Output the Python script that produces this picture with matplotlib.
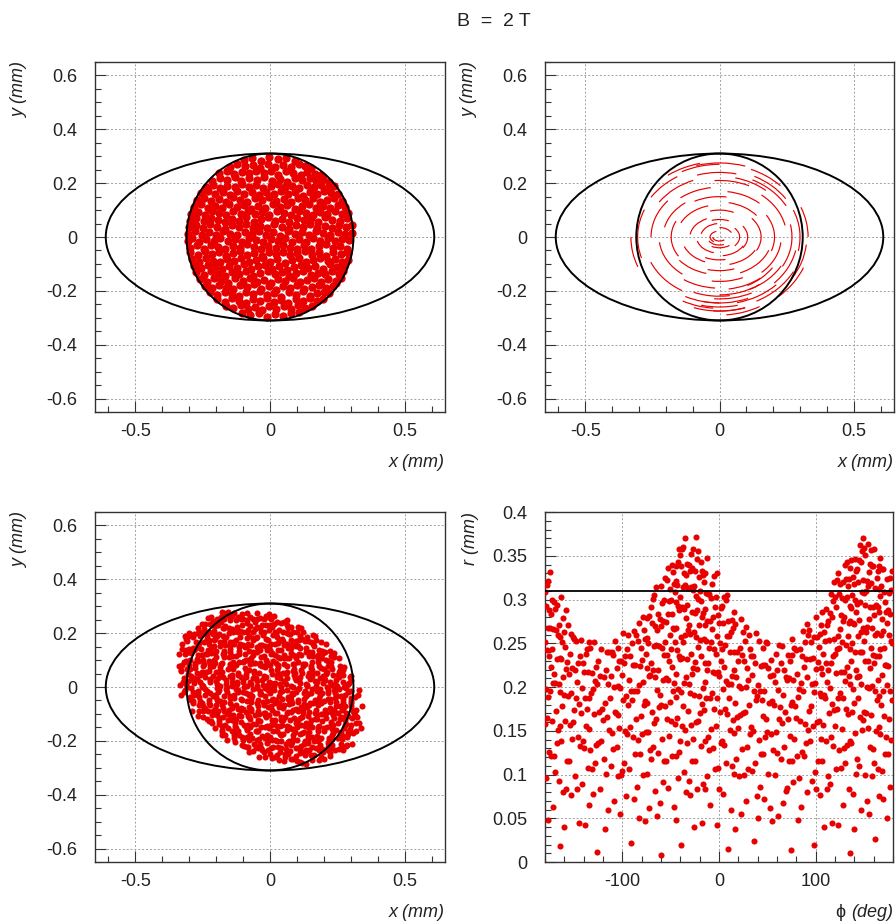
import numpy as np
import matplotlib
matplotlib.use("Agg")
import matplotlib.pyplot as plt
from matplotlib.patches import Ellipse, Circle, Arc
from matplotlib.ticker import MultipleLocator, FuncFormatter

plt.rcParams["font.family"] = ["Liberation Sans", "DejaVu Sans"]

FIELD_LABEL = "B  =  2 T"
APERTURE_A = 0.61   # ellipse half width (mm)
APERTURE_B = 0.31   # ellipse half height (mm)
BEAM_R = 0.31       # beam radius (mm)

# beam spot at entry, (x, y) in mm
entry_xy = [
    (-0.098, 0.286), (-0.066, 0.293), (-0.034, 0.283), (-0.004, 0.297), (0.028, 0.289), (0.061, 0.294), (0.092, 0.282),
    (-0.149, 0.259), (-0.121, 0.270), (-0.094, 0.262), (-0.062, 0.268), (-0.037, 0.257), (-0.008, 0.272), (0.019, 0.261),
    (0.047, 0.268), (0.079, 0.259), (0.106, 0.271), (0.131, 0.263), (0.153, 0.256),
    (-0.188, 0.236), (-0.161, 0.245), (-0.133, 0.233), (-0.104, 0.242), (-0.079, 0.236), (-0.051, 0.247), (-0.022, 0.238),
    (0.004, 0.244), (0.031, 0.232), (0.058, 0.246), (0.087, 0.239), (0.114, 0.231), (0.139, 0.243), (0.166, 0.235), (0.189, 0.229),
    (-0.214, 0.209), (-0.187, 0.218), (-0.159, 0.211), (-0.131, 0.222), (-0.106, 0.208), (-0.077, 0.219), (-0.049, 0.213),
    (-0.021, 0.224), (0.007, 0.209), (0.036, 0.217), (0.062, 0.206), (0.091, 0.221), (0.118, 0.212), (0.147, 0.219),
    (0.172, 0.207), (0.198, 0.214), (0.219, 0.203),
    (-0.238, 0.186), (-0.212, 0.194), (-0.186, 0.183), (-0.158, 0.191), (-0.131, 0.184), (-0.104, 0.196), (-0.079, 0.187),
    (-0.052, 0.193), (-0.026, 0.181), (0.002, 0.189), (0.029, 0.197), (0.055, 0.184), (0.083, 0.191), (0.109, 0.182),
    (0.137, 0.193), (0.163, 0.186), (0.191, 0.195), (0.216, 0.183), (0.239, 0.188),
    (-0.257, 0.162), (-0.229, 0.171), (-0.203, 0.159), (-0.176, 0.168), (-0.149, 0.157), (-0.122, 0.172), (-0.097, 0.161),
    (-0.068, 0.167), (-0.041, 0.156), (-0.014, 0.169), (0.013, 0.161), (0.041, 0.172), (0.068, 0.158), (0.094, 0.166),
    (0.121, 0.154), (0.148, 0.169), (0.174, 0.159), (0.201, 0.171), (0.228, 0.162), (0.253, 0.158),
    (-0.271, 0.136), (-0.244, 0.145), (-0.218, 0.133), (-0.191, 0.142), (-0.165, 0.131), (-0.137, 0.147), (-0.111, 0.138),
    (-0.084, 0.129), (-0.057, 0.144), (-0.031, 0.136), (-0.004, 0.148), (0.024, 0.133), (0.051, 0.141), (0.077, 0.129),
    (0.104, 0.146), (0.131, 0.137), (0.158, 0.144), (0.184, 0.131), (0.211, 0.139), (0.238, 0.146), (0.266, 0.134),
    (-0.284, 0.112), (-0.258, 0.121), (-0.231, 0.108), (-0.204, 0.117), (-0.178, 0.106), (-0.151, 0.122), (-0.124, 0.111),
    (-0.098, 0.119), (-0.071, 0.104), (-0.043, 0.116), (-0.017, 0.107), (0.011, 0.121), (0.038, 0.112), (0.064, 0.118),
    (0.091, 0.105), (0.118, 0.114), (0.145, 0.123), (0.171, 0.109), (0.198, 0.117), (0.224, 0.106), (0.251, 0.119), (0.279, 0.113),
    (-0.292, 0.086), (-0.269, 0.094), (-0.243, 0.083), (-0.216, 0.097), (-0.189, 0.088), (-0.163, 0.081), (-0.136, 0.095),
    (-0.109, 0.087), (-0.083, 0.098), (-0.056, 0.084), (-0.029, 0.092), (-0.002, 0.081), (0.025, 0.096), (0.052, 0.088),
    (0.079, 0.083), (0.106, 0.097), (0.133, 0.089), (0.159, 0.082), (0.186, 0.094), (0.213, 0.087), (0.241, 0.096),
    (0.268, 0.084), (0.290, 0.091),
    (-0.297, 0.061), (-0.274, 0.069), (-0.247, 0.058), (-0.221, 0.072), (-0.194, 0.063), (-0.167, 0.056), (-0.141, 0.068),
    (-0.114, 0.061), (-0.088, 0.073), (-0.061, 0.057), (-0.034, 0.066), (-0.008, 0.074), (0.019, 0.059), (0.046, 0.067),
    (0.072, 0.055), (0.099, 0.071), (0.126, 0.062), (0.152, 0.069), (0.179, 0.057), (0.206, 0.073), (0.232, 0.064),
    (0.259, 0.058), (0.286, 0.069),
    (-0.302, 0.036), (-0.276, 0.045), (-0.249, 0.033), (-0.223, 0.047), (-0.196, 0.038), (-0.169, 0.031), (-0.143, 0.044),
    (-0.117, 0.036), (-0.091, 0.048), (-0.064, 0.032), (-0.037, 0.041), (-0.011, 0.035), (0.016, 0.047), (0.043, 0.038),
    (0.069, 0.031), (0.096, 0.045), (0.123, 0.037), (0.149, 0.049), (0.176, 0.034), (0.203, 0.042), (0.229, 0.033),
    (0.256, 0.046), (0.283, 0.038), (0.303, 0.043),
    (-0.305, 0.012), (-0.279, 0.021), (-0.252, 0.009), (-0.226, 0.018), (-0.199, 0.007), (-0.173, 0.022), (-0.147, 0.013),
    (-0.121, 0.006), (-0.094, 0.019), (-0.068, 0.011), (-0.041, 0.023), (-0.015, 0.008), (0.012, 0.017), (0.038, 0.005),
    (0.065, 0.021), (0.092, 0.012), (0.118, 0.019), (0.145, 0.008), (0.171, 0.022), (0.198, 0.014), (0.224, 0.006),
    (0.251, 0.019), (0.277, 0.011), (0.303, 0.016),
    (-0.303, -0.014), (-0.288, -0.004), (-0.262, -0.017), (-0.236, -0.006), (-0.209, -0.013), (-0.184, -0.002), (-0.157, -0.016),
    (-0.131, -0.008), (-0.105, -0.018), (-0.078, -0.004), (-0.052, -0.012), (-0.025, -0.019), (0.002, -0.006), (0.028, -0.015),
    (0.055, -0.003), (0.081, -0.017), (0.108, -0.009), (0.134, -0.019), (0.161, -0.005), (0.187, -0.013), (0.214, -0.002),
    (0.241, -0.016), (0.266, -0.007), (0.292, -0.012),
    (-0.299, -0.039), (-0.272, -0.031), (-0.246, -0.043), (-0.219, -0.028), (-0.193, -0.037), (-0.166, -0.044), (-0.139, -0.032),
    (-0.113, -0.041), (-0.086, -0.027), (-0.059, -0.038), (-0.033, -0.046), (-0.006, -0.033), (0.021, -0.042), (0.047, -0.029),
    (0.074, -0.039), (0.101, -0.045), (0.127, -0.031), (0.154, -0.043), (0.181, -0.035), (0.207, -0.027), (0.234, -0.041),
    (0.261, -0.033), (0.287, -0.044),
    (-0.296, -0.057), (-0.269, -0.066), (-0.243, -0.053), (-0.217, -0.064), (-0.191, -0.056), (-0.164, -0.069), (-0.137, -0.058),
    (-0.111, -0.052), (-0.084, -0.067), (-0.058, -0.059), (-0.031, -0.071), (-0.004, -0.054), (0.022, -0.063), (0.049, -0.056),
    (0.075, -0.068), (0.102, -0.061), (0.129, -0.052), (0.155, -0.066), (0.182, -0.057), (0.208, -0.069), (0.235, -0.055),
    (0.262, -0.064), (0.291, -0.058),
    (-0.291, -0.081), (-0.264, -0.091), (-0.238, -0.079), (-0.212, -0.088), (-0.186, -0.094), (-0.159, -0.082), (-0.132, -0.089),
    (-0.106, -0.077), (-0.079, -0.093), (-0.053, -0.084), (-0.026, -0.078), (0.001, -0.091), (0.027, -0.083), (0.054, -0.096),
    (0.081, -0.087), (0.107, -0.079), (0.134, -0.092), (0.161, -0.084), (0.187, -0.077), (0.214, -0.089), (0.241, -0.081),
    (0.268, -0.093), (0.289, -0.085),
    (-0.282, -0.107), (-0.256, -0.116), (-0.229, -0.104), (-0.203, -0.113), (-0.177, -0.119), (-0.151, -0.106), (-0.124, -0.115),
    (-0.097, -0.102), (-0.071, -0.118), (-0.044, -0.109), (-0.018, -0.103), (0.009, -0.117), (0.035, -0.108), (0.062, -0.121),
    (0.088, -0.111), (0.115, -0.104), (0.142, -0.116), (0.168, -0.107), (0.195, -0.119), (0.221, -0.102), (0.248, -0.113),
    (0.276, -0.106),
    (-0.274, -0.131), (-0.247, -0.141), (-0.221, -0.128), (-0.195, -0.138), (-0.168, -0.144), (-0.142, -0.129), (-0.115, -0.137),
    (-0.089, -0.127), (-0.062, -0.143), (-0.036, -0.133), (-0.009, -0.126), (0.017, -0.139), (0.044, -0.131), (0.071, -0.146),
    (0.097, -0.134), (0.124, -0.127), (0.151, -0.141), (0.177, -0.132), (0.204, -0.138), (0.231, -0.128), (0.257, -0.139),
    (0.272, -0.126),
    (-0.261, -0.156), (-0.234, -0.166), (-0.208, -0.153), (-0.182, -0.163), (-0.155, -0.169), (-0.129, -0.154), (-0.102, -0.162),
    (-0.076, -0.151), (-0.049, -0.167), (-0.023, -0.158), (0.004, -0.171), (0.031, -0.155), (0.057, -0.164), (0.084, -0.152),
    (0.111, -0.168), (0.137, -0.159), (0.164, -0.153), (0.191, -0.166), (0.217, -0.157), (0.244, -0.163), (0.262, -0.151),
    (-0.243, -0.181), (-0.217, -0.191), (-0.191, -0.178), (-0.164, -0.188), (-0.138, -0.194), (-0.111, -0.179), (-0.085, -0.187),
    (-0.058, -0.176), (-0.032, -0.192), (-0.005, -0.183), (0.021, -0.196), (0.048, -0.181), (0.075, -0.189), (0.101, -0.177),
    (0.128, -0.193), (0.155, -0.184), (0.181, -0.178), (0.208, -0.191), (0.234, -0.182), (0.246, -0.172),
    (-0.222, -0.206), (-0.196, -0.216), (-0.169, -0.203), (-0.143, -0.213), (-0.117, -0.219), (-0.091, -0.204), (-0.064, -0.212),
    (-0.038, -0.201), (-0.011, -0.217), (0.016, -0.208), (0.042, -0.221), (0.069, -0.206), (0.095, -0.214), (0.122, -0.202),
    (0.149, -0.218), (0.175, -0.209), (0.202, -0.203), (0.218, -0.207),
    (-0.196, -0.231), (-0.169, -0.241), (-0.143, -0.228), (-0.117, -0.238), (-0.091, -0.244), (-0.064, -0.229), (-0.038, -0.237),
    (-0.011, -0.226), (0.015, -0.242), (0.042, -0.233), (0.068, -0.246), (0.095, -0.231), (0.121, -0.239), (0.148, -0.227),
    (0.174, -0.236), (0.196, -0.229),
    (-0.162, -0.256), (-0.136, -0.265), (-0.109, -0.253), (-0.083, -0.268), (-0.056, -0.259), (-0.029, -0.271), (-0.003, -0.255),
    (0.024, -0.266), (0.051, -0.258), (0.077, -0.269), (0.104, -0.254), (0.131, -0.263), (0.157, -0.257),
    (-0.104, -0.282), (-0.073, -0.291), (-0.042, -0.284), (-0.012, -0.296), (0.019, -0.287), (0.049, -0.293), (0.079, -0.283),
    (0.106, -0.279),
]

# track segments in the field: loops about the axis, (half width, half height, theta1, theta2) in mm and deg
tracks = [
    (0.025, 0.015, 180, 330), (0.035, 0.022, 120, 220), (0.045, 0.030, 200, 300), (0.050, 0.035, 20, 90),
    (0.060, 0.040, 230, 320), (0.070, 0.050, 100, 170), (0.075, 0.050, -30, 30), (0.085, 0.060, 190, 250),
    (0.090, 0.065, 60, 115), (0.100, 0.070, 280, 340), (0.105, 0.072, -25, 25), (0.110, 0.075, 125, 175),
    (0.120, 0.085, 235, 285),
    (0.130, 0.100, 60, 110), (0.140, 0.100, 195, 240), (0.150, 0.105, 290, 340), (0.155, 0.110, -20, 30),
    (0.160, 0.120, 110, 160), (0.170, 0.125, 250, 295), (0.175, 0.130, 30, 75), (0.180, 0.135, 160, 205),
    (0.190, 0.140, 210, 250), (0.195, 0.145, 300, 345), (0.200, 0.150, 80, 125), (0.205, 0.155, -15, 25),
    (0.210, 0.160, 135, 170), (0.215, 0.165, 260, 300), (0.220, 0.170, 40, 80), (0.225, 0.175, 185, 225),
    (0.230, 0.180, 320, 355), (0.235, 0.185, 100, 135), (0.240, 0.190, 230, 265), (0.245, 0.195, 280, 315),
    (0.250, 0.200, 10, 45),
    (0.255, 0.205, 145, 180), (0.260, 0.210, 60, 95), (0.265, 0.215, 300, 335), (0.270, 0.220, -25, 10),
    (0.270, 0.220, 245, 280), (0.275, 0.225, 115, 150), (0.280, 0.230, 265, 300), (0.280, 0.230, 200, 235),
    (0.285, 0.235, 25, 60), (0.290, 0.240, 320, 350), (0.290, 0.240, 75, 110), (0.295, 0.245, 240, 270),
    (0.300, 0.250, 285, 320), (0.300, 0.250, -10, 20), (0.305, 0.255, 160, 195), (0.310, 0.260, 125, 150),
    (0.310, 0.260, 255, 285), (0.315, 0.265, 300, 335), (0.320, 0.270, 40, 65), (0.320, 0.270, 90, 120),
    (0.325, 0.275, 265, 290), (0.325, 0.275, -30, -5), (0.330, 0.280, 0, 20), (0.335, 0.280, 105, 130),
    (0.330, 0.285, 180, 200), (0.340, 0.290, 315, 340), (0.330, 0.290, 275, 300), (0.330, 0.275, 70, 108),
    (0.320, 0.275, 250, 290), (0.290, 0.245, 255, 295), (0.310, 0.265, 240, 265), (0.260, 0.215, 270, 310),
    (0.240, 0.200, 300, 330), (0.300, 0.250, 30, 60), (0.270, 0.225, 45, 75),
]

# beam spot at exit in polar form: (phi in deg, r in um), one row per 10 deg slice
exit_phi_r = [
    (-177, 48), (-172, 63), (-179, 96), (-174, 121), (-171, 121), (-176, 126), (-180, 158), (-173, 161), (-178, 165), (-175, 195),
    (-177, 189), (-172, 205), (-179, 198), (-174, 223), (-171, 215), (-176, 235), (-180, 251), (-173, 243), (-178, 242), (-175, 268),
    (-177, 267), (-172, 266), (-179, 293), (-174, 284), (-171, 297), (-176, 288), (-180, 309), (-173, 300), (-178, 317), (-175, 331),
    (-177, 321),
    (-164, 18), (-161, 80), (-166, 93), (-170, 103), (-163, 138), (-168, 136), (-165, 155), (-167, 151), (-162, 178), (-169, 173),
    (-164, 194), (-161, 211), (-166, 204), (-170, 205), (-163, 232), (-168, 232), (-165, 233), (-167, 260), (-162, 252), (-169, 265),
    (-164, 257), (-161, 279), (-166, 271), (-170, 289), (-163, 303), (-168, 294),
    (-160, 40), (-153, 77), (-158, 83), (-155, 116), (-157, 116), (-152, 141), (-159, 161), (-154, 157), (-151, 160), (-156, 190),
    (-160, 191), (-153, 193), (-158, 221), (-155, 215), (-157, 229), (-152, 222), (-159, 246), (-154, 238), (-151, 257), (-156, 271),
    (-160, 263), (-153, 261), (-158, 288),
    (-145, 45), (-147, 83), (-142, 89), (-149, 98), (-144, 133), (-141, 138), (-146, 143), (-150, 174), (-143, 170), (-148, 187),
    (-145, 181), (-147, 206), (-142, 199), (-149, 220), (-144, 235), (-141, 228), (-146, 228), (-150, 255), (-143, 254), (-148, 253),
    (-139, 42), (-134, 65), (-131, 106), (-136, 108), (-140, 130), (-133, 128), (-138, 156), (-135, 152), (-137, 175), (-132, 193),
    (-139, 187), (-134, 188), (-131, 216), (-136, 217), (-140, 217), (-133, 245), (-138, 238), (-135, 252), (-137, 244),
    (-126, 12), (-130, 78), (-123, 84), (-128, 113), (-125, 136), (-127, 134), (-122, 138), (-129, 169), (-124, 172), (-121, 175),
    (-126, 204), (-130, 198), (-123, 213), (-128, 207), (-125, 230), (-127, 223), (-122, 243), (-129, 252),
    (-118, 38), (-115, 60), (-117, 101), (-112, 110), (-119, 118), (-114, 151), (-111, 148), (-116, 166), (-120, 162), (-113, 188),
    (-118, 182), (-115, 203), (-117, 219), (-112, 213), (-119, 212), (-114, 240), (-111, 240), (-116, 240),
    (-102, 55), (-109, 70), (-104, 98), (-101, 100), (-106, 131), (-110, 129), (-103, 153), (-108, 172), (-105, 168), (-107, 170),
    (-102, 199), (-109, 200), (-104, 201), (-101, 230), (-106, 222), (-110, 237), (-103, 230), (-108, 253), (-105, 245),
    (-91, 22), (-96, 75), (-100, 104), (-93, 106), (-98, 113), (-95, 146), (-97, 150), (-92, 154), (-99, 185), (-94, 180),
    (-91, 196), (-96, 190), (-100, 214), (-93, 208), (-98, 227), (-95, 243), (-97, 236), (-92, 235), (-99, 262), (-94, 260),
    (-83, 50), (-88, 72), (-85, 86), (-87, 123), (-82, 123), (-89, 143), (-84, 140), (-81, 167), (-86, 163), (-90, 185),
    (-83, 202), (-88, 196), (-85, 196), (-87, 225), (-82, 224), (-89, 225), (-84, 253), (-81, 245), (-86, 259), (-90, 250),
    (-83, 273), (-88, 264),
    (-77, 47), (-72, 62), (-79, 99), (-74, 101), (-71, 128), (-76, 149), (-80, 146), (-73, 149), (-78, 180), (-75, 182),
    (-77, 184), (-72, 213), (-79, 206), (-74, 222), (-71, 214), (-76, 238), (-80, 231), (-73, 250), (-78, 265), (-75, 256),
    (-77, 255), (-72, 281), (-79, 280), (-74, 279),
    (-64, 53), (-61, 68), (-66, 81), (-70, 118), (-63, 125), (-68, 131), (-65, 163), (-67, 159), (-62, 177), (-69, 172),
    (-64, 197), (-61, 191), (-66, 211), (-70, 228), (-63, 220), (-68, 220), (-65, 248), (-67, 247), (-62, 247), (-69, 273),
    (-64, 265), (-61, 278), (-66, 270), (-70, 292), (-63, 283), (-68, 301), (-65, 314), (-67, 305),
    (-60, 8), (-53, 85), (-58, 91), (-55, 115), (-57, 115), (-52, 144), (-59, 141), (-54, 164), (-51, 183), (-56, 178),
    (-60, 179), (-53, 208), (-58, 208), (-55, 210), (-57, 237), (-52, 230), (-59, 245), (-54, 237), (-51, 260), (-56, 251),
    (-60, 270), (-53, 284), (-58, 276), (-55, 274), (-57, 300), (-52, 298), (-59, 296), (-54, 322), (-51, 312), (-56, 325),
    (-60, 315), (-53, 336),
    (-45, 48), (-47, 63), (-42, 96), (-49, 121), (-44, 121), (-41, 126), (-46, 158), (-50, 161), (-43, 165), (-48, 195),
    (-45, 189), (-47, 205), (-42, 198), (-49, 223), (-44, 215), (-41, 235), (-46, 251), (-50, 243), (-43, 242), (-48, 268),
    (-45, 267), (-47, 266), (-42, 293), (-49, 284), (-44, 297), (-41, 288), (-46, 309), (-50, 300), (-43, 317), (-48, 331),
    (-45, 321), (-47, 318), (-42, 343), (-49, 340), (-44, 338), (-41, 358),
    (-39, 20), (-34, 80), (-31, 93), (-36, 103), (-40, 138), (-33, 136), (-38, 155), (-35, 151), (-37, 178), (-32, 173),
    (-39, 194), (-34, 211), (-31, 204), (-36, 205), (-40, 232), (-33, 232), (-38, 233), (-35, 260), (-37, 252), (-32, 265),
    (-39, 257), (-34, 279), (-31, 271), (-36, 289), (-40, 303), (-33, 294), (-38, 291), (-35, 317), (-37, 314), (-32, 313),
    (-39, 338), (-34, 328), (-31, 340), (-36, 330), (-40, 351), (-33, 341), (-38, 358), (-35, 370), (-37, 360),
    (-26, 40), (-30, 77), (-23, 83), (-28, 116), (-25, 116), (-27, 141), (-22, 161), (-29, 157), (-24, 160), (-21, 190),
    (-26, 191), (-30, 193), (-23, 221), (-28, 215), (-25, 229), (-27, 222), (-22, 246), (-29, 238), (-24, 257), (-21, 271),
    (-26, 263), (-30, 261), (-23, 288), (-28, 286), (-25, 285), (-27, 311), (-22, 301), (-29, 314), (-24, 304), (-21, 326),
    (-26, 316), (-30, 333), (-23, 346), (-28, 336), (-25, 333), (-27, 358), (-22, 355), (-29, 352), (-24, 372),
    (-18, 45), (-15, 83), (-17, 89), (-12, 98), (-19, 133), (-14, 138), (-11, 143), (-16, 174), (-20, 170), (-13, 187),
    (-18, 181), (-15, 206), (-17, 199), (-12, 220), (-19, 235), (-14, 228), (-11, 228), (-16, 255), (-20, 254), (-13, 253),
    (-18, 280), (-15, 271), (-17, 285), (-12, 276), (-19, 298), (-14, 289), (-11, 306), (-16, 320), (-20, 310), (-13, 308),
    (-18, 333), (-15, 330), (-17, 328), (-12, 348), (-19, 343),
    (-2, 42), (-9, 65), (-4, 106), (-1, 108), (-6, 130), (-10, 128), (-3, 156), (-8, 152), (-5, 175), (-7, 193),
    (-2, 187), (-9, 188), (-4, 216), (-1, 217), (-6, 217), (-10, 245), (-3, 238), (-8, 252), (-5, 244), (-7, 266),
    (-2, 258), (-9, 276), (-4, 291), (-1, 282), (-6, 280), (-10, 306), (-3, 303), (-8, 302), (-5, 327), (-7, 318),
    (-2, 330),
    (9, 15), (4, 78), (0, 84), (7, 113), (2, 136), (5, 134), (3, 138), (8, 169), (1, 172), (6, 175),
    (9, 204), (4, 198), (0, 213), (7, 207), (2, 230), (5, 223), (3, 243), (8, 258), (1, 250), (6, 248),
    (9, 275), (4, 273), (0, 273), (7, 299), (2, 290), (5, 303), (3, 293), (8, 305),
    (17, 38), (12, 60), (15, 101), (13, 110), (18, 118), (11, 151), (16, 148), (19, 166), (14, 162), (10, 188),
    (17, 182), (12, 203), (15, 219), (13, 213), (18, 212), (11, 240), (16, 240), (19, 240), (14, 267), (10, 258),
    (17, 272), (12, 263), (15, 286), (13, 277),
    (23, 55), (28, 70), (21, 98), (26, 100), (29, 131), (24, 129), (20, 153), (27, 172), (22, 168), (25, 170),
    (23, 199), (28, 200), (21, 201), (26, 230), (29, 222), (24, 237), (20, 230), (27, 253), (22, 245), (25, 263),
    (23, 278), (28, 269),
    (36, 24), (39, 75), (34, 104), (30, 106), (37, 113), (32, 146), (35, 150), (33, 154), (38, 185), (31, 180),
    (36, 196), (39, 190), (34, 214), (30, 208), (37, 227), (32, 243), (35, 236), (33, 235), (38, 262), (31, 260),
    (40, 50), (47, 72), (42, 86), (45, 123), (43, 123), (48, 143), (41, 140), (46, 167), (49, 163), (44, 185),
    (40, 202), (47, 196), (42, 196), (45, 225), (43, 224), (48, 225), (41, 253), (46, 245), (49, 252),
    (55, 47), (53, 62), (58, 99), (51, 101), (56, 128), (59, 149), (54, 146), (50, 149), (57, 180), (52, 182),
    (55, 184), (53, 213), (58, 206), (51, 222), (56, 214), (59, 238), (54, 231), (50, 250),
    (61, 53), (66, 68), (69, 81), (64, 118), (60, 125), (67, 131), (62, 163), (65, 159), (63, 177), (68, 172),
    (61, 197), (66, 191), (69, 211), (64, 228), (60, 220), (67, 220), (62, 248), (65, 247),
    (74, 14), (70, 85), (77, 91), (72, 115), (75, 115), (73, 144), (78, 141), (71, 164), (76, 183), (79, 178),
    (74, 179), (70, 208), (77, 208), (72, 210), (75, 237), (73, 230), (78, 245), (71, 237), (76, 255),
    (82, 48), (85, 63), (83, 96), (88, 121), (81, 121), (86, 126), (89, 158), (84, 161), (80, 165), (87, 195),
    (82, 189), (85, 205), (83, 198), (88, 223), (81, 215), (86, 235), (89, 251), (84, 243), (80, 242), (87, 264),
    (98, 20), (91, 80), (96, 93), (99, 103), (94, 138), (90, 136), (97, 155), (92, 151), (95, 178), (93, 173),
    (98, 194), (91, 211), (96, 204), (99, 205), (94, 232), (90, 232), (97, 233), (92, 260), (95, 252), (93, 265),
    (98, 257), (91, 272),
    (109, 40), (104, 77), (100, 83), (107, 116), (102, 116), (105, 141), (103, 161), (108, 157), (101, 160), (106, 190),
    (109, 191), (104, 193), (100, 221), (107, 215), (102, 229), (105, 222), (103, 246), (108, 238), (101, 257), (106, 271),
    (109, 263), (104, 261), (100, 280), (107, 286),
    (117, 45), (112, 83), (115, 89), (113, 98), (118, 133), (111, 138), (116, 143), (119, 174), (114, 170), (110, 187),
    (117, 181), (112, 206), (115, 199), (113, 220), (118, 235), (111, 228), (116, 228), (119, 255), (114, 254), (110, 253),
    (117, 280), (112, 271), (115, 285), (113, 276), (118, 298), (111, 289), (116, 306), (119, 320),
    (123, 42), (128, 65), (121, 106), (126, 108), (129, 130), (124, 128), (120, 156), (127, 152), (122, 175), (125, 193),
    (123, 187), (128, 188), (121, 216), (126, 217), (129, 217), (124, 245), (120, 238), (127, 252), (122, 244), (125, 266),
    (123, 258), (128, 276), (121, 291), (126, 282), (129, 280), (124, 306), (120, 303), (127, 302), (122, 322), (125, 318),
    (123, 330), (128, 320),
    (136, 10), (139, 78), (134, 84), (130, 113), (137, 136), (132, 134), (135, 138), (133, 169), (138, 172), (131, 175),
    (136, 204), (139, 198), (134, 213), (130, 207), (137, 230), (132, 223), (135, 243), (133, 258), (138, 250), (131, 248),
    (136, 275), (139, 273), (134, 273), (130, 299), (137, 290), (132, 303), (135, 293), (133, 315), (138, 305), (131, 323),
    (136, 336), (139, 326), (134, 323), (130, 340), (137, 345), (132, 343),
    (140, 38), (147, 60), (142, 101), (145, 110), (143, 118), (148, 151), (141, 148), (146, 166), (149, 162), (144, 188),
    (140, 182), (147, 203), (142, 219), (145, 213), (143, 212), (148, 240), (141, 240), (146, 240), (149, 267), (144, 258),
    (140, 272), (147, 263), (142, 286), (145, 277), (143, 295), (148, 309), (141, 299), (146, 297), (149, 322), (144, 320),
    (140, 318), (147, 343), (142, 333), (145, 345), (143, 335), (148, 356), (141, 346), (146, 362), (149, 370),
    (155, 55), (153, 70), (158, 98), (151, 100), (156, 131), (159, 129), (154, 153), (150, 172), (157, 168), (152, 170),
    (155, 199), (153, 200), (158, 201), (151, 230), (156, 222), (159, 237), (154, 230), (150, 253), (157, 245), (152, 263),
    (155, 278), (153, 269), (158, 268), (151, 294), (156, 292), (159, 291), (154, 316), (150, 307), (157, 319), (152, 310),
    (155, 331), (153, 321), (158, 338), (151, 351), (156, 341), (159, 338), (154, 363), (150, 359), (157, 357),
    (161, 26), (166, 75), (169, 104), (164, 106), (160, 113), (167, 146), (162, 150), (165, 154), (163, 185), (168, 180),
    (161, 196), (166, 190), (169, 214), (164, 208), (160, 227), (167, 243), (162, 236), (165, 235), (163, 262), (168, 260),
    (161, 260), (166, 286), (169, 278), (164, 291), (160, 282), (167, 304), (162, 294), (165, 312), (163, 325), (168, 316),
    (161, 313), (166, 338), (169, 335), (164, 333), (160, 358), (167, 348),
    (174, 50), (170, 72), (177, 86), (172, 123), (175, 123), (173, 143), (178, 140), (171, 167), (176, 163), (179, 185),
    (174, 202), (170, 196), (177, 196), (172, 225), (175, 224), (173, 225), (178, 253), (171, 245), (176, 259), (179, 250),
    (174, 273), (170, 264), (177, 283), (172, 297), (175, 288), (173, 286), (178, 311), (171, 309), (176, 307), (179, 333),
    (174, 323), (170, 335), (177, 325),
]

RED = "#e80000"
INK = "#222222"

entry = np.array(entry_xy)
exit_pol = np.array(exit_phi_r, dtype=float)
exit_phi = exit_pol[:, 0]
exit_r = exit_pol[:, 1] / 1000.0
exit_x = exit_r * np.cos(np.radians(exit_phi))
exit_y = exit_r * np.sin(np.radians(exit_phi))


def fmt(v, _):
    v = round(v, 6) + 0.0
    return f"{v:g}"


def style(ax, xmaj, xmin, ymaj, ymin, ylabel):
    ax.xaxis.set_major_locator(MultipleLocator(xmaj))
    ax.xaxis.set_minor_locator(MultipleLocator(xmin))
    ax.yaxis.set_major_locator(MultipleLocator(ymaj))
    ax.yaxis.set_minor_locator(MultipleLocator(ymin))
    ax.xaxis.set_major_formatter(FuncFormatter(fmt))
    ax.yaxis.set_major_formatter(FuncFormatter(fmt))
    ax.tick_params(which="both", direction="in", top=False, right=False,
                   color="#333333", labelcolor=INK, labelsize=13)
    ax.tick_params(which="major", length=8, width=0.8)
    ax.tick_params(which="minor", length=4, width=0.8)
    ax.tick_params(axis="y", pad=13)
    ax.tick_params(axis="x", pad=8)
    ax.grid(True, which="major", color="#a0a0a0", linestyle=(0, (2, 2)), linewidth=0.7)
    ax.set_axisbelow(True)
    for sp in ax.spines.values():
        sp.set_linewidth(1.0)
        sp.set_color("#333333")
    ax.text(-0.215, 1.0, ylabel, transform=ax.transAxes, ha="center", va="top",
            rotation=90, fontsize=13, style="italic", color=INK)


def x_title(ax, text):
    return ax.text(1.0, -0.145, text, transform=ax.transAxes, ha="right", va="center",
                   fontsize=13, style="italic", color=INK)


def draw_aperture(ax):
    ax.add_patch(Ellipse((0, 0), 2 * APERTURE_A, 2 * APERTURE_B, fill=False,
                         edgecolor="black", linewidth=1.4, zorder=4))
    ax.add_patch(Circle((0, 0), BEAM_R, fill=False, edgecolor="black",
                        linewidth=1.4, zorder=4))


W, H = 896, 922
fig = plt.figure(figsize=(W / 100, H / 100), dpi=100)


def add_axes(left, top, width=350, height=350):
    return fig.add_axes([left / W, 1 - (top + height) / H, width / W, height / H])


ax1 = add_axes(95, 62)
ax2 = add_axes(545, 62, width=349)
ax3 = add_axes(95, 512)
ax4 = add_axes(545, 512, width=348)

for ax in (ax1, ax2, ax3):
    ax.set_xlim(-0.65, 0.65)
    ax.set_ylim(-0.65, 0.65)
    style(ax, 0.5, 0.1, 0.2, 0.05, "y (mm)")
    x_title(ax, "x (mm)")
    draw_aperture(ax)

ax1.plot(entry[:, 0], entry[:, 1], "o", color=RED, markersize=6.0,
         markeredgewidth=0, zorder=3)

for a, b, t1, t2 in tracks:
    ax2.add_patch(Arc((0, 0), 2 * a, 2 * b, theta1=t1, theta2=t2,
                      color=RED, linewidth=0.85, zorder=3))

ax3.plot(exit_x, exit_y, "o", color=RED, markersize=4.4,
         markeredgewidth=0, zorder=3)

ax4.set_xlim(-180, 180)
ax4.set_ylim(0, 0.4)
style(ax4, 100, 20, 0.05, 0.01, "r (mm)")
deg = x_title(ax4, "(deg)")
ax4.annotate("\u03d5", xy=(0, 0.5), xycoords=deg, xytext=(-4, 0),
             textcoords="offset points", ha="right", va="center",
             fontsize=13, color=INK)
ax4.plot(exit_phi, exit_r, "o", color=RED, markersize=4.4,
         markeredgewidth=0, zorder=3)
ax4.axhline(BEAM_R, color="black", linewidth=1.3, zorder=4)

fig.text(494 / W, 1 - 22 / H, FIELD_LABEL, ha="center", va="center",
         fontsize=14, color=INK)

fig.savefig("out.png", dpi=100)
